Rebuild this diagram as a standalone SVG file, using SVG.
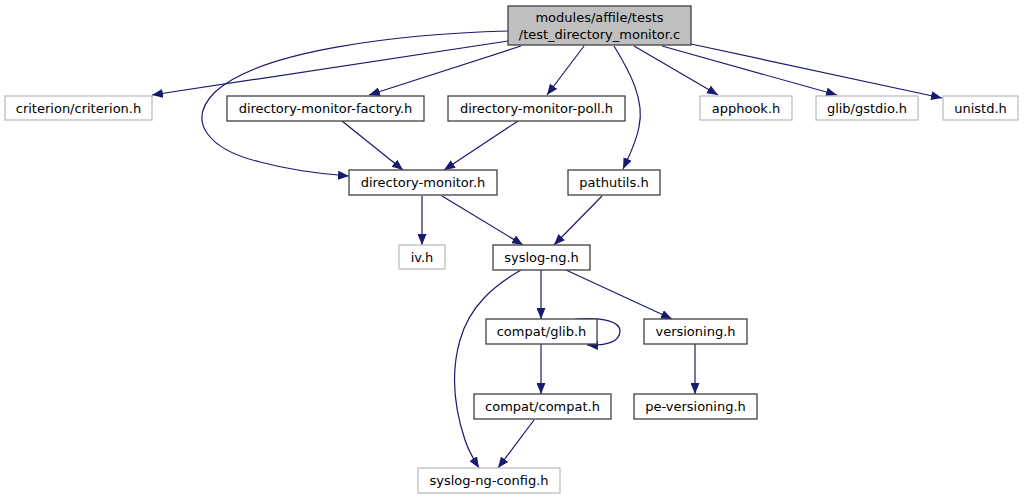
<svg xmlns="http://www.w3.org/2000/svg" width="1024" height="500" viewBox="0 0 1024 500">
<style>
.n rect{fill:#fff;stroke:#404040;stroke-width:1.3}
.g rect{fill:#fff;stroke:#bfbfbf;stroke-width:1.3}
.r rect{fill:#bfbfbf;stroke:#404040;stroke-width:1.3}
text{font-family:"DejaVu Sans",sans-serif;font-size:13px;fill:#000;text-anchor:middle}
#edges path{fill:none;stroke:#191970;stroke-width:1.2}
</style>
<defs>
<marker id="a" viewBox="0 0 11 9" refX="11" refY="4.5" markerWidth="11" markerHeight="9" markerUnits="userSpaceOnUse" orient="auto">
<path d="M0,0 L11,4.5 L0,9 Z" fill="#191970"/>
</marker>
</defs>
<rect width="1024" height="500" fill="#fff"/>
<g id="edges">
<path d="M508,41 L152,95" marker-end="url(#a)"/>
<path d="M508,31 C400,34 260,50 215,92 C185,122 210,150 260,162 C290,170 320,174 349,176" marker-end="url(#a)"/>
<path d="M521,46 L369,95" marker-end="url(#a)"/>
<path d="M584,46 L547,95" marker-end="url(#a)"/>
<path d="M614,46 C630,72 645,100 639,127 C636,143 630,154 623,169" marker-end="url(#a)"/>
<path d="M634,46 L718,95" marker-end="url(#a)"/>
<path d="M662,46 L837,95" marker-end="url(#a)"/>
<path d="M691,44 L942,98" marker-end="url(#a)"/>
<path d="M342,121 L403,170" marker-end="url(#a)"/>
<path d="M518,121 L444,170" marker-end="url(#a)"/>
<path d="M422,196 L422,245" marker-end="url(#a)"/>
<path d="M442,196 L523,245" marker-end="url(#a)"/>
<path d="M602,196 L554,245" marker-end="url(#a)"/>
<path d="M541,270 L541,319" marker-end="url(#a)"/>
<path d="M566,270 L672,319" marker-end="url(#a)"/>
<path d="M521,270 C495,285 470,305 460,340 C450,375 455,410 465,440 C469,452 474,460 479,468" marker-end="url(#a)"/>
<path d="M575,319 C605,317 620,322 620,331 C620,341 608,346 587,345" marker-end="url(#a)"/>
<path d="M541,344 L541,394" marker-end="url(#a)"/>
<path d="M534,420 L498,468" marker-end="url(#a)"/>
<path d="M695,344 L695,394" marker-end="url(#a)"/>
</g>
<g id="root" class="r"><rect x="508" y="6" width="183" height="39"/><text x="599.5" y="22">modules/affile/tests</text><text x="599.5" y="39">/test_directory_monitor.c</text></g>
<g id="criterion" class="g"><rect x="5" y="96" width="147" height="24"/><text x="78.5" y="113">criterion/criterion.h</text></g>
<g id="factory" class="n"><rect x="227" y="96" width="197" height="25"/><text x="325.5" y="113">directory-monitor-factory.h</text></g>
<g id="poll" class="n"><rect x="448" y="96" width="177" height="25"/><text x="536.5" y="113">directory-monitor-poll.h</text></g>
<g id="apphook" class="g"><rect x="700" y="96" width="92" height="24"/><text x="746" y="113">apphook.h</text></g>
<g id="gstdio" class="g"><rect x="816" y="96" width="102" height="24"/><text x="867" y="113">glib/gstdio.h</text></g>
<g id="unistd" class="g"><rect x="943" y="96" width="75" height="24"/><text x="980.5" y="113">unistd.h</text></g>
<g id="dirmon" class="n"><rect x="349" y="170" width="148" height="25"/><text x="423" y="187">directory-monitor.h</text></g>
<g id="pathutils" class="n"><rect x="568" y="170" width="92" height="25"/><text x="614" y="187">pathutils.h</text></g>
<g id="iv" class="g"><rect x="399" y="245" width="46" height="24"/><text x="422" y="262">iv.h</text></g>
<g id="syslogng" class="n"><rect x="493" y="245" width="97" height="25"/><text x="541.5" y="262">syslog-ng.h</text></g>
<g id="compatglib" class="n"><rect x="486" y="319" width="111" height="25"/><text x="541.5" y="336">compat/glib.h</text></g>
<g id="versioning" class="n"><rect x="644" y="319" width="103" height="25"/><text x="695.5" y="336">versioning.h</text></g>
<g id="compatcompat" class="n"><rect x="474" y="394" width="137" height="25"/><text x="542.5" y="411">compat/compat.h</text></g>
<g id="peversioning" class="n"><rect x="634" y="394" width="123" height="25"/><text x="695.5" y="411">pe-versioning.h</text></g>
<g id="config" class="g"><rect x="418" y="468" width="142" height="25"/><text x="489" y="485">syslog-ng-config.h</text></g>
</svg>
